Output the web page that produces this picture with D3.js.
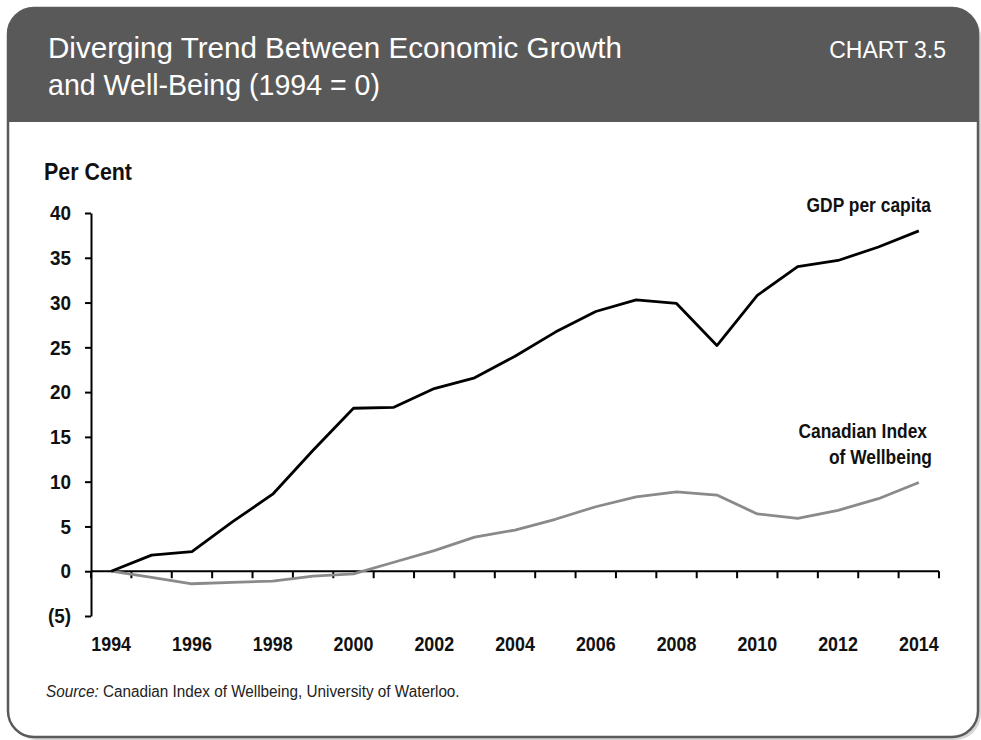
<!DOCTYPE html>
<html>
<head>
<meta charset="utf-8">
<script src="https://cdn.jsdelivr.net/npm/d3@7"></script>
<style>
  html, body { margin: 0; padding: 0; background: #ffffff; }
  svg { display: block; }
  text { font-family: "Liberation Sans Narrow", "Arial Narrow", "Liberation Sans", Arial, sans-serif; }
</style>
</head>
<body>
<svg id="chart" width="981" height="740"></svg>
<script>
// ---- data ----
const years = [1994,1995,1996,1997,1998,1999,2000,2001,2002,2003,2004,2005,2006,2007,2008,2009,2010,2011,2012,2013,2014];
const gdpPerCapita = [0,1.8,2.2,5.5,8.6,13.5,18.2,18.3,20.4,21.6,24.0,26.7,29.0,30.3,29.9,25.2,30.8,34.0,34.7,36.2,38.0];
const wellbeingIndex = [0,-0.7,-1.4,-1.25,-1.1,-0.55,-0.3,1.0,2.3,3.8,4.6,5.8,7.2,8.3,8.85,8.5,6.4,5.9,6.8,8.1,9.9];
const yTicks = [-5,0,5,10,15,20,25,30,35,40];
const xLabelYears = [1994,1996,1998,2000,2002,2004,2006,2008,2010,2012,2014];
const titleLines = ["Diverging Trend Between Economic Growth", "and Well-Being (1994 = 0)"];
const chartNumber = "CHART 3.5";
const yUnit = "Per Cent";
const seriesLabels = { gdp: ["GDP per capita"], ciw: ["Canadian Index", "of Wellbeing"] };

const svg = d3.select("#chart");

// horizontally condense text (no narrow font installed)
function condense(sel, factor) {
  sel.each(function () {
    const n = this.getComputedTextLength();
    d3.select(this).attr("textLength", n * factor).attr("lengthAdjust", "spacingAndGlyphs");
  });
  return sel;
}

// ---- card frame ----
const card = { x: 8, y: 8, w: 970, h: 729, r: 26, headerH: 114 };
svg.append("rect")
  .attr("x", card.x + 3).attr("y", card.y + 3)
  .attr("width", card.w).attr("height", card.h)
  .attr("rx", card.r).attr("fill", "#d6d6d6");
svg.append("rect")
  .attr("x", card.x).attr("y", card.y)
  .attr("width", card.w).attr("height", card.h)
  .attr("rx", card.r).attr("fill", "#ffffff");
const hx = card.x, hy = card.y, hw = card.w, hh = card.headerH, r = card.r;
svg.append("path")
  .attr("d", `M${hx},${hy+hh} L${hx},${hy+r} A${r},${r} 0 0 1 ${hx+r},${hy} L${hx+hw-r},${hy} A${r},${r} 0 0 1 ${hx+hw},${hy+r} L${hx+hw},${hy+hh} Z`)
  .attr("fill", "#595959");
svg.append("rect")
  .attr("x", card.x).attr("y", card.y)
  .attr("width", card.w).attr("height", card.h)
  .attr("rx", card.r).attr("fill", "none")
  .attr("stroke", "#5a5a5a").attr("stroke-width", 2.5);

// ---- header text ----
const tl = [574, 332];
titleLines.forEach((t, i) => {
  svg.append("text")
    .attr("x", 48).attr("y", 58 + i * 37)
    .attr("fill", "#ffffff")
    .attr("font-size", 29)
    .attr("textLength", tl[i]).attr("lengthAdjust", "spacingAndGlyphs")
    .text(t);
});
svg.append("text")
  .attr("x", 946).attr("y", 58)
  .attr("text-anchor", "end")
  .attr("fill", "#ffffff")
  .attr("font-size", 23)
  .text(chartNumber);

// ---- scales ----
const x = d3.scaleBand().domain(years).range([91, 939]).padding(0);
const y = d3.scaleLinear().domain([-5, 40]).range([616, 213]);
const cx = yr => x(yr) + x.bandwidth() / 2;

const axisColor = "#000";

// ---- y axis ----
const yAxis = svg.append("g")
  .attr("transform", `translate(${x.range()[0]},0)`)
  .call(d3.axisLeft(y).tickValues(yTicks).tickSize(6).tickSizeOuter(0).tickPadding(14)
        .tickFormat(d => d < 0 ? `(${-d})` : d));
yAxis.select(".domain").attr("stroke", axisColor).attr("stroke-width", 2);
yAxis.selectAll(".tick line").attr("stroke", axisColor).attr("stroke-width", 2);
yAxis.selectAll(".tick text")
  .attr("font-family", "Liberation Sans Narrow, Arial Narrow, Liberation Sans, Arial, sans-serif")
  .attr("font-size", 21).attr("font-weight", "bold").attr("fill", "#111");
condense(yAxis.selectAll(".tick text"), 0.9);

// ---- x axis (category boundaries as ticks) ----
const xAxisG = svg.append("g");
const y0 = y(0);
xAxisG.append("line")
  .attr("x1", x.range()[0]).attr("x2", x.range()[1])
  .attr("y1", y0).attr("y2", y0)
  .attr("stroke", axisColor).attr("stroke-width", 2);
const boundaries = years.map(yr => x(yr)).concat([x.range()[1]]);
xAxisG.selectAll("line.tk").data(boundaries).join("line")
  .attr("class", "tk")
  .attr("x1", d => d).attr("x2", d => d)
  .attr("y1", y0).attr("y2", y0 + 7)
  .attr("stroke", axisColor).attr("stroke-width", 2);
const xLabels = xAxisG.selectAll("text").data(xLabelYears).join("text")
  .attr("x", d => cx(d)).attr("y", 651)
  .attr("text-anchor", "middle")
  .attr("font-size", 21).attr("font-weight", "bold").attr("fill", "#111")
  .text(d => d);
condense(xLabels, 0.85);

// ---- unit label ----
condense(svg.append("text")
  .attr("x", 44).attr("y", 180)
  .attr("font-size", 23).attr("font-weight", "bold").attr("fill", "#111")
  .text(yUnit), 0.93);

// ---- lines ----
const line = d3.line().x((d, i) => cx(years[i])).y(d => y(d));
svg.append("path").datum(wellbeingIndex)
  .attr("d", line).attr("fill", "none")
  .attr("stroke", "#8a8a8a").attr("stroke-width", 2.8).attr("stroke-linejoin", "round");
svg.append("path").datum(gdpPerCapita)
  .attr("d", line).attr("fill", "none")
  .attr("stroke", "#000").attr("stroke-width", 2.8).attr("stroke-linejoin", "round");

// ---- series labels ----
seriesLabels.gdp.forEach((t, i) => {
  condense(svg.append("text").attr("x", 931).attr("y", 212 + i * 26)
    .attr("text-anchor", "end").attr("font-size", 20).attr("font-weight", "bold").attr("fill", "#111")
    .text(t), 0.87);
});
seriesLabels.ciw.forEach((t, i) => {
  condense(svg.append("text").attr("x", i === 0 ? 927 : 932).attr("y", 438 + i * 25.5)
    .attr("text-anchor", "end").attr("font-size", 20).attr("font-weight", "bold").attr("fill", "#111")
    .text(t), 0.87);
});

// ---- source ----
const src = svg.append("text").attr("x", 46).attr("y", 697)
  .attr("font-size", 16).attr("fill", "#222");
src.append("tspan").attr("font-style", "italic").text("Source:");
src.append("tspan").text(" Canadian Index of Wellbeing, University of Waterloo.");
condense(src, 0.955);
</script>
</body>
</html>
